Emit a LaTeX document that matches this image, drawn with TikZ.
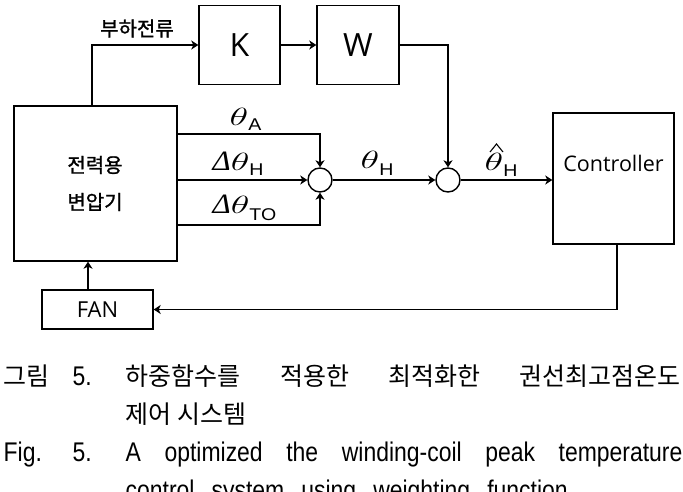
\documentclass[tikz,border=0pt]{standalone}
\usepackage{fontspec}
\usepackage{graphicx}
\setmainfont{Liberation Sans}
\newfontfamily\kr{Noto Sans CJK KR}
\newfontfamily\krb[FakeBold=1.2]{Noto Sans CJK KR}
\newfontfamily\labf{Open Sans}
\newfontfamily\thf{Liberation Serif}
\usetikzlibrary{arrows.meta}
\newcommand\thsym{{\fontsize{27}{27}\selectfont\scalebox{1.55}[1]{$\theta$}}}
\newcommand\delsym{{\thf\itshape\fontsize{28}{28}\selectfont\scalebox{1.1}[1]{Δ}}}
\newcommand\sbs[2]{\raisebox{-#1}{\fontsize{17}{17}\selectfont\scalebox{1.15}[1]{#2}}}
\begin{document}
\begin{tikzpicture}[x=1pt,y=-1pt,line width=1.4pt,
  blk/.style={draw,rectangle,inner sep=0pt},
  sumc/.style={draw,circle,minimum size=24pt,inner sep=0pt},
  arr/.style={-{Stealth[length=7pt,width=9pt,inset=2pt]}},
  lbl/.style={inner sep=0pt,anchor=base west},
  krd/.style={inner sep=0pt,font=\krb\fontsize{20}{20}\selectfont},
  latd/.style={font=\labf\fontsize{32}{32}\selectfont},
  capk/.style={lbl,font=\kr\fontsize{25}{25}\selectfont},
  cape/.style={lbl,font=\fontsize{27}{27}\selectfont}]
\clip (0,0) rectangle (683,492);
\fill[white] (0,0) rectangle (683,492);
% blocks
\node[blk,minimum width=163pt,minimum height=155pt] (tr) at (95.5,183.5) {};
\node[krd] (tr1) at (95,165) {전력용};
\node[krd] (tr2) at (95,202) {변압기};
\node[blk,latd,minimum width=81pt,minimum height=79pt] (K) at (239.5,45) {K};
\node[blk,latd,minimum width=82pt,minimum height=79pt] (W) at (358,45) {W};
\node[blk,minimum width=121pt,minimum height=131pt] (ctrl) at (613.5,178.5) {};
\node[inner sep=0pt,font=\labf\fontsize{21.5}{21.5}\selectfont] (ctrlt) at (613.5,163) {Controller};
\node[blk,minimum width=111pt,minimum height=39pt,font=\labf\fontsize{22}{22}\selectfont] (fan) at (97.5,309.5) {FAN};
\node[sumc] (s1) at (320,180) {};
\node[sumc] (s2) at (448,180) {};
% connectors
\draw[arr] ([xshift=-3.5pt]tr.north) |- (K.west);
\draw[arr] (K) -- (W);
\draw[arr] (W.east) -| (s2.north);
\draw[arr] ([yshift=49.5pt]tr.east) -| (s1.north);
\draw[arr] (tr.east |- s1) -- (s1.west);
\draw[arr] ([yshift=-41.5pt]tr.east) -| (s1.south);
\draw[arr] (s1) -- (s2);
\draw[arr] (s2) -- (s2 -| ctrl.west);
\draw[arr] ([xshift=3.5pt]ctrl.south) |- (fan.east);
\draw[arr] ([xshift=-9.5pt]fan.north) -- ([xshift=-9.5pt]fan.north |- tr.south);
% labels
\node[krd] (lc) at (137,28.5) {부하전류};
\node[lbl] (la) at (229,126) {\thsym\sbs{5pt}{A}};
\node[lbl] (lh) at (212,171) {\delsym\thsym\sbs{5pt}{H}};
\node[lbl] (lto) at (212,213) {\delsym\thsym\sbs{7pt}{TO}};
\node[lbl] (lm) at (360,169) {\thsym\sbs{6pt}{H}};
\node[lbl] (lhat) at (484,171) {\thsym\sbs{6pt}{H}};
\draw[line width=1.1pt] (490,152) -- (496.5,144) -- (503,152);
% caption
\node[capk] (c1a) at (3,385) {그림};
\node[cape] (c1b) at (72,385) {\scalebox{0.85}[1]{5.}};
\node[capk] (c1c) at (125,385) {\makebox[555pt][s]{하중함수를 적용한 최적화한 권선최고점온도}};
\node[capk] (c2) at (125,423) {제어 시스템};
\node[cape] (c3a) at (3,461) {\scalebox{0.85}[1]{Fig.}};
\node[cape] (c3b) at (72,461) {\scalebox{0.85}[1]{5.}};
\node[cape] (c3c) at (125,461) {\scalebox{0.85}[1]{\makebox[655pt][s]{A optimized the winding-coil peak temperature}}};
\node[cape] (c4) at (125,499) {\scalebox{0.85}[1]{\makebox[520pt][s]{control system using weighting function}}};
\end{tikzpicture}
\end{document}
